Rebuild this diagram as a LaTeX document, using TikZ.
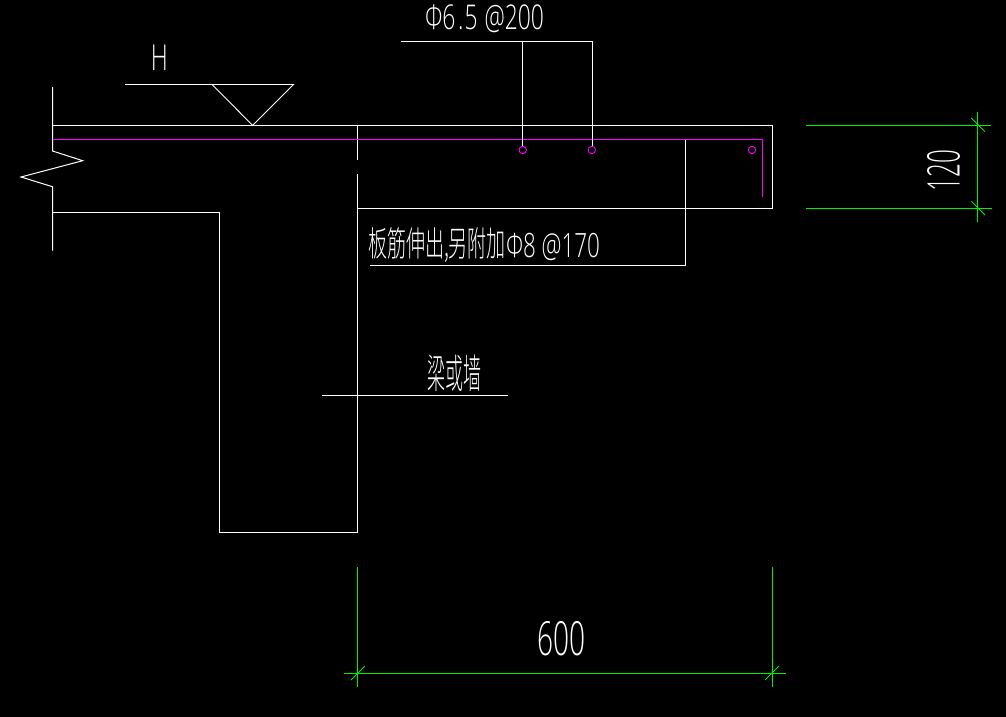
\documentclass[tikz,border=0pt]{standalone}
\usepackage{fontspec}
\setmainfont{Open Sans Light}
\newfontfamily\cjk{Noto Sans CJK SC Light}
\newcommand{\fit}[3]{\resizebox*{#1pt}{#2pt}{#3}}
\definecolor{cadgreen}{RGB}{0,240,0}
\definecolor{cadmag}{RGB}{255,0,255}
\tikzset{
  cadline/.style={draw=white,line width=1pt},
  rebar/.style={draw=cadmag,line width=1pt},
  dimline/.style={draw=cadgreen,line width=1pt},
  dimtick/.style={draw=cadgreen,line width=.8pt},
  bardot/.style={circle,draw=cadmag,line width=.9pt,minimum size=7.4pt,inner sep=0pt},
  label/.style={text=white,inner sep=0pt,outer sep=0pt},
}
\begin{document}
\begin{tikzpicture}[x=1pt,y=-1pt]
\fill[black] (0,0) rectangle (1006,717);
\useasboundingbox (0,0) rectangle (1006,717);
% outline of slab and wall
\draw[cadline] (52.5,87) -- (52.5,151) -- (82.7,160.7) -- (21,177) -- (52.5,186.7) -- (52.5,250.7);
\draw[cadline] (52.5,125.5) -- (772.5,125.5) -- (772.5,208.5) -- (357.5,208.5);
\draw[cadline] (357.5,125.5) -- (357.5,159.7);
\draw[cadline] (357.5,174) -- (357.5,532.5) -- (219.5,532.5) -- (219.5,212.5) -- (52.5,212.5);
% level mark
\draw[cadline,line width=.9pt] (125,84.5) -- (293.5,84.5) -- (252.7,125.4) -- (212,84.5);
\node[label] (lvl) at (159.4,57.8) {\fit{17}{25.5}{H}};
% rebar
\draw[rebar] (52.5,139.5) -- (762.5,139.5) -- (762.5,196.7);
\node[bardot] (b1) at (522.7,150) {};
\node[bardot] (b2) at (591.8,150) {};
\node[bardot] (b3) at (752,150) {};
% leaders
\coordinate (l1) at (401,41.5);
\coordinate (l2) at (592.5,41.5);
\coordinate (l3) at (522.5,41.5);
\draw[cadline] (l1) -- (l2) -- (l2 |- b2.north);
\draw[cadline] (l3) -- (l3 |- b1.north);
\node[label] (t1) at (484.5,19) {\fit{119}{28}{Φ6\kern.12em.\kern.05em5\kern.3em@200}};
\coordinate (l4) at (685.5,139.5);
\coordinate (l5) at (685.5,265.5);
\coordinate (l6) at (370,265.5);
\draw[cadline] (l4) -- (l5) -- (l6);
\node[label] (t2) at (437,245.5) {\fit{138}{35}{\cjk 板筋伸出,另附加}};
\node[label] (t2b) at (553,247) {\fit{94}{27.5}{Φ8 @170}};
\coordinate (l7) at (322.3,395.5);
\coordinate (l8) at (507.7,395.5);
\draw[cadline] (l7) -- (l8);
\node[label] (t3) at (454.8,373.3) {\fit{54}{36.5}{\cjk 梁或墙}};
% dimension 120
\coordinate (a1) at (806,125.5);
\coordinate (a2) at (990.7,125.5);
\coordinate (a3) at (806,208.5);
\coordinate (a4) at (991.7,208.5);
\coordinate (a5) at (977.5,112.3);
\coordinate (a6) at (977.5,221.7);
\draw[dimline] (a1) -- (a2);
\draw[dimline] (a3) -- (a4);
\draw[dimline] (a5) -- (a6);
\draw[dimtick] (971.3,118) -- (985,131.7);
\draw[dimtick] (971.3,201.3) -- (985,215);
\node[label,rotate=90] (t4) at (943.5,170.8) {\fit{41.5}{33}{120}};
% dimension 600
\coordinate (c1) at (357.5,567);
\coordinate (c2) at (357.5,686.7);
\coordinate (c3) at (772.5,567);
\coordinate (c4) at (772.5,686.7);
\coordinate (c5) at (344,673.5);
\coordinate (c6) at (785.7,673.5);
\draw[dimline] (c1) -- (c2);
\draw[dimline] (c3) -- (c4);
\draw[dimline] (c5) -- (c6);
\draw[dimtick] (351,680) -- (365,666);
\draw[dimtick] (765,680) -- (779,666);
\node[label] (t5) at (561.3,638.8) {\fit{48}{34.5}{600}};
\end{tikzpicture}
\end{document}
